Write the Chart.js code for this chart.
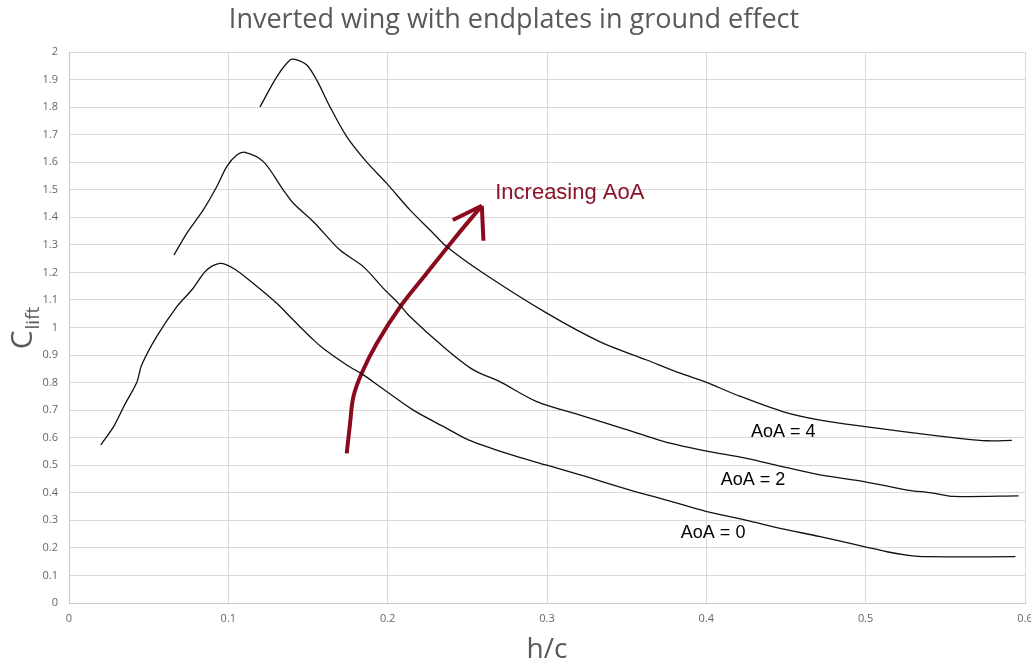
<!DOCTYPE html>
<html>
<head>
<meta charset="utf-8">
<title>Inverted wing with endplates in ground effect</title>
<script src="https://cdn.jsdelivr.net/npm/chart.js@4.4.1/dist/chart.umd.min.js"></script>
<style>
  html, body { margin: 0; padding: 0; background: #fff; }
  #wrap { width: 1031px; height: 665px; position: relative; }
</style>
</head>
<body>
<div id="wrap"><canvas id="myChart"></canvas></div>
<script>
// h/c values and lift coefficients for each angle of attack
const hc0 = [0.020, 0.028, 0.035, 0.0425, 0.0456, 0.055, 0.0676, 0.077, 0.0864, 0.0948, 0.1031, 0.1157, 0.1304, 0.1408, 0.1534, 0.1596, 0.1743, 0.1847, 0.1952, 0.2161, 0.2371, 0.2507, 0.2748, 0.2994, 0.3208, 0.3522, 0.3773, 0.3997, 0.4253, 0.4463, 0.4714, 0.4997, 0.5134, 0.5258, 0.5384, 0.594];
const cl0 = [0.574, 0.640, 0.720, 0.800, 0.864, 0.967, 1.075, 1.136, 1.209, 1.233, 1.215, 1.160, 1.088, 1.027, 0.955, 0.924, 0.864, 0.828, 0.785, 0.700, 0.634, 0.592, 0.543, 0.501, 0.465, 0.410, 0.370, 0.333, 0.300, 0.271, 0.241, 0.204, 0.186, 0.174, 0.168, 0.168];

const hc2 = [0.0659, 0.0739, 0.0843, 0.0927, 0.099, 0.1053, 0.1105, 0.122, 0.1345, 0.1408, 0.1534, 0.1701, 0.1847, 0.1973, 0.2067, 0.2141, 0.235, 0.2538, 0.2695, 0.2936, 0.3208, 0.3459, 0.3773, 0.3997, 0.4253, 0.4463, 0.4714, 0.4997, 0.526, 0.5412, 0.5551, 0.5959];
const cl2 = [1.263, 1.342, 1.427, 1.511, 1.584, 1.626, 1.636, 1.602, 1.499, 1.451, 1.384, 1.281, 1.221, 1.142, 1.088, 1.039, 0.930, 0.846, 0.806, 0.731, 0.682, 0.637, 0.580, 0.552, 0.525, 0.497, 0.465, 0.440, 0.410, 0.400, 0.387, 0.389];

const hc4 = [0.1199, 0.1304, 0.1387, 0.1419, 0.1492, 0.1555, 0.1638, 0.1743, 0.1869, 0.1994, 0.2141, 0.2266, 0.2371, 0.2601, 0.2999, 0.3333, 0.3626, 0.3836, 0.3997, 0.4191, 0.4484, 0.4714, 0.4997, 0.5237, 0.5614, 0.5761, 0.5918];
const cl4 = [1.801, 1.910, 1.971, 1.973, 1.953, 1.898, 1.801, 1.693, 1.600, 1.523, 1.426, 1.354, 1.293, 1.197, 1.052, 0.948, 0.882, 0.834, 0.802, 0.755, 0.694, 0.664, 0.640, 0.622, 0.596, 0.589, 0.590];

// hand drawn arrow "Increasing AoA", in data units
const arrowX = [0.1743, 0.1764, 0.1785, 0.1837, 0.1932, 0.2078, 0.2245, 0.2412, 0.2591];
const arrowY = [0.543, 0.652, 0.749, 0.834, 0.943, 1.075, 1.197, 1.318, 1.442];
const headLeftX = [0.2409, 0.2591];
const headLeftY = [1.390, 1.442];
const headDownX = [0.2591, 0.2601];
const headDownY = [1.442, 1.315];

// tick labels
const xTickValues = [0, 0.1, 0.2, 0.3, 0.4, 0.5, 0.6];
const xTickLabels = ['0', '0.1', '0.2', '0.3', '0.4', '0.5', '0.6'];
const yTickValues = [0, 0.1, 0.2, 0.3, 0.4, 0.5, 0.6, 0.7, 0.8, 0.9, 1, 1.1, 1.2, 1.3, 1.4, 1.5, 1.6, 1.7, 1.8, 1.9, 2];
const yTickLabels = ['0', '0.1', '0.2', '0.3', '0.4', '0.5', '0.6', '0.7', '0.8', '0.9', '1', '1.1', '1.2', '1.3', '1.4', '1.5', '1.6', '1.7', '1.8', '1.9', '2'];

// series labels next to the curves
const curveLabels = ['AoA = 4', 'AoA = 2', 'AoA = 0'];
const curveLabelX = [0.428, 0.409, 0.384];
const curveLabelY = [0.62, 0.448, 0.253];
const arrowText = 'Increasing AoA';
const arrowTextX = 0.2675;
const arrowTextY = 1.488;

const chartTitle = 'Inverted wing with endplates in ground effect';
const xTitle = 'h/c';

const pts = (xs, ys) => xs.map((x, i) => ({x: x, y: ys[i]}));

const RED = '#8a0b1e';

function curve(label, xs, ys){
    return {
        label: label,
        data: pts(xs, ys),
        borderColor: '#111',
        borderWidth: 1.3,
        pointRadius: 0,
        showLine: true,
        tension: 0.3,
        fill: false
    };
}
function redStroke(label, xs, ys, t){
    return {
        label: label,
        data: pts(xs, ys),
        borderColor: RED,
        borderWidth: 4,
        borderCapStyle: 'butt',
        pointRadius: 0,
        showLine: true,
        tension: t,
        fill: false
    };
}

// all the free text: title, axis titles, curve labels
const textPlugin = {
    id: 'texts',
    afterDraw(chart){
        const ctx = chart.ctx;
        const xs = chart.scales.x, ys = chart.scales.y;
        ctx.save();

        ctx.fillStyle = '#595959';
        ctx.font = "27px 'Open Sans'";
        ctx.textAlign = 'center';
        ctx.textBaseline = 'alphabetic';
        ctx.fillText(chartTitle, 514, 28);

        ctx.font = "28px 'Open Sans'";
        ctx.fillText(xTitle, xs.getPixelForValue(0.3), 658);

        // C with subscript "lift", rotated
        ctx.font = "30px 'Open Sans'";
        const wC = ctx.measureText('C').width;
        ctx.font = "19px 'Open Sans'";
        const wL = ctx.measureText('lift').width;
        const total = wC + wL + 1;
        ctx.translate(32, 328 + total / 2);
        ctx.rotate(-Math.PI / 2);
        ctx.textAlign = 'left';
        ctx.font = "30px 'Open Sans'";
        ctx.fillText('C', 0, 0);
        ctx.font = "19px 'Open Sans'";
        ctx.fillText('lift', wC + 1, 7);
        ctx.setTransform(1, 0, 0, 1, 0, 0);

        ctx.fillStyle = '#000';
        ctx.font = "18px 'Liberation Sans'";
        ctx.textAlign = 'left';
        ctx.textBaseline = 'middle';
        curveLabels.forEach((t, i) => {
            ctx.fillText(t, xs.getPixelForValue(curveLabelX[i]), ys.getPixelForValue(curveLabelY[i]));
        });

        ctx.fillStyle = '#8b1428';
        ctx.font = "22px 'Liberation Sans'";
        ctx.fillText(arrowText, xs.getPixelForValue(arrowTextX), ys.getPixelForValue(arrowTextY));
        ctx.restore();
    }
};

const config = {
    type: 'scatter',
    data: {
        datasets: [
            curve('AoA = 0', hc0, cl0),
            curve('AoA = 2', hc2, cl2),
            curve('AoA = 4', hc4, cl4),
            redStroke('arrow', arrowX, arrowY, 0.35),
            redStroke('head1', headLeftX, headLeftY, 0),
            redStroke('head2', headDownX, headDownY, 0)
        ]
    },
    options: {
        responsive: true,
        maintainAspectRatio: false,
        animation: false,
        devicePixelRatio: 1,
        layout: { padding: { top: 52, right: 6, left: 0, bottom: 0 } },
        plugins: {
            legend: { display: false },
            title: { display: false },
            tooltip: { enabled: false }
        },
        scales: {
            x: {
                type: 'linear',
                min: 0, max: 0.6,
                afterFit: s => { s.height = 62; s.paddingLeft = 0; s.paddingRight = 0; },
                afterBuildTicks: s => { s.ticks = xTickValues.map(v => ({value: v})); },
                grid: { color: '#d9d9d9', drawTicks: false },
                border: { color: '#c8c8c8' },
                ticks: {
                    padding: 9,
                    color: '#666',
                    font: { family: "'Open Sans'", size: 11 },
                    maxRotation: 0,
                    autoSkip: false,
                    callback: (v, i) => xTickLabels[i]
                }
            },
            y: {
                type: 'linear',
                min: 0, max: 2,
                afterFit: s => { s.width = 69; s.paddingTop = 0; s.paddingBottom = 0; },
                afterBuildTicks: s => { s.ticks = yTickValues.map(v => ({value: v})); },
                grid: { color: '#d9d9d9', drawTicks: false },
                border: { color: '#c8c8c8' },
                ticks: {
                    padding: 11,
                    color: '#666',
                    font: { family: "'Open Sans'", size: 11 },
                    autoSkip: false,
                    callback: (v, i) => yTickLabels[i]
                }
            }
        }
    },
    plugins: [textPlugin]
};

window.myChart = new Chart(document.getElementById('myChart'), config);
</script>
</body>
</html>
